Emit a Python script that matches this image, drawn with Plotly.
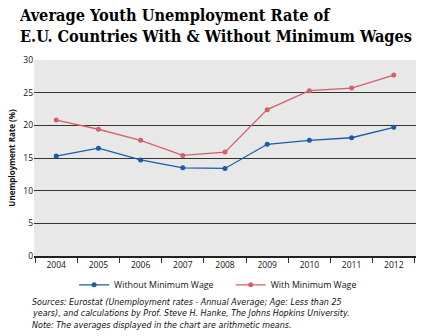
import plotly.graph_objects as go

years = ["2004", "2005", "2006", "2007", "2008", "2009", "2010", "2011", "2012"]
without_mw = [15.3, 16.5, 14.7, 13.5, 13.4, 17.1, 17.7, 18.1, 19.7]
with_mw = [20.8, 19.4, 17.7, 15.4, 15.9, 22.4, 25.3, 25.7, 27.7]
y_ticks = [0, 5, 10, 15, 20, 25, 30]
source_lines = [
    "Sources: Eurostat (Unemployment rates - Annual Average; Age: Less than 25",
    "years), and calculations by Prof. Steve H. Hanke, The Johns Hopkins University.",
    "Note: The averages displayed in the chart are arithmetic means.",
]

blue = "#1c5aa8"
red = "#d4606a"

fig = go.Figure()
fig.add_trace(go.Scatter(x=years, y=without_mw, name="Without Minimum Wage",
                         mode="lines+markers", line=dict(color=blue, width=1.3),
                         marker=dict(color=blue, size=5), legend="legend"))
fig.add_trace(go.Scatter(x=years, y=with_mw, name="With Minimum Wage",
                         mode="lines+markers", line=dict(color=red, width=1.3),
                         marker=dict(color=red, size=5), legend="legend2"))

leg_common = dict(orientation="h", yanchor="middle", y=-0.147,
                  font=dict(size=8.8, color="#111"), itemwidth=30,
                  bgcolor="rgba(0,0,0,0)", xanchor="left")

fig.update_layout(
    width=432, height=336,
    margin=dict(l=30, r=16, t=60, b=80),
    paper_bgcolor="white",
    plot_bgcolor="#e8e8e8",
    font=dict(family="Open Sans, Noto Sans, sans-serif", size=8, color="#111"),
    showlegend=True,
    legend=dict(x=0.105, **leg_common),
    legend2=dict(x=0.515, **leg_common),
    xaxis=dict(type="category", tickson="boundaries", ticks="outside", ticklen=5,
               tickcolor="#333", showline=True, linecolor="#222", linewidth=1.5,
               showgrid=False, tickfont=dict(size=8.5), fixedrange=True),
    yaxis=dict(range=[0, 30], tickvals=y_ticks, showgrid=True, gridcolor="#333",
               gridwidth=1.3, zeroline=False, showline=False, ticks="",
               tickfont=dict(size=8.5),
               title=dict(text="Unemployment Rate (%)", font=dict(size=8, weight="bold"), standoff=6)),
)

fig.add_annotation(
    text="Average Youth Unemployment Rate of<br>E.U. Countries With & Without Minimum Wages",
    xref="paper", yref="paper", x=-0.045, y=1.285, xanchor="left", yanchor="top",
    align="left", showarrow=False,
    font=dict(family="DejaVu Serif Condensed, DejaVu Serif", size=16.2, color="black", weight="bold"),
)

line_px = [302.3, 313.7, 325.0]
for txt, py in zip(source_lines, line_px):
    fig.add_annotation(
        text="<i>" + txt + "</i>",
        xref="paper", yref="paper", x=-0.008, y=(256 - py) / 196, xanchor="left", yanchor="middle",
        align="left", showarrow=False, borderpad=0,
        font=dict(family="DejaVu Sans", size=8.0, color="#111"),
    )

fig.write_html("out.html")
